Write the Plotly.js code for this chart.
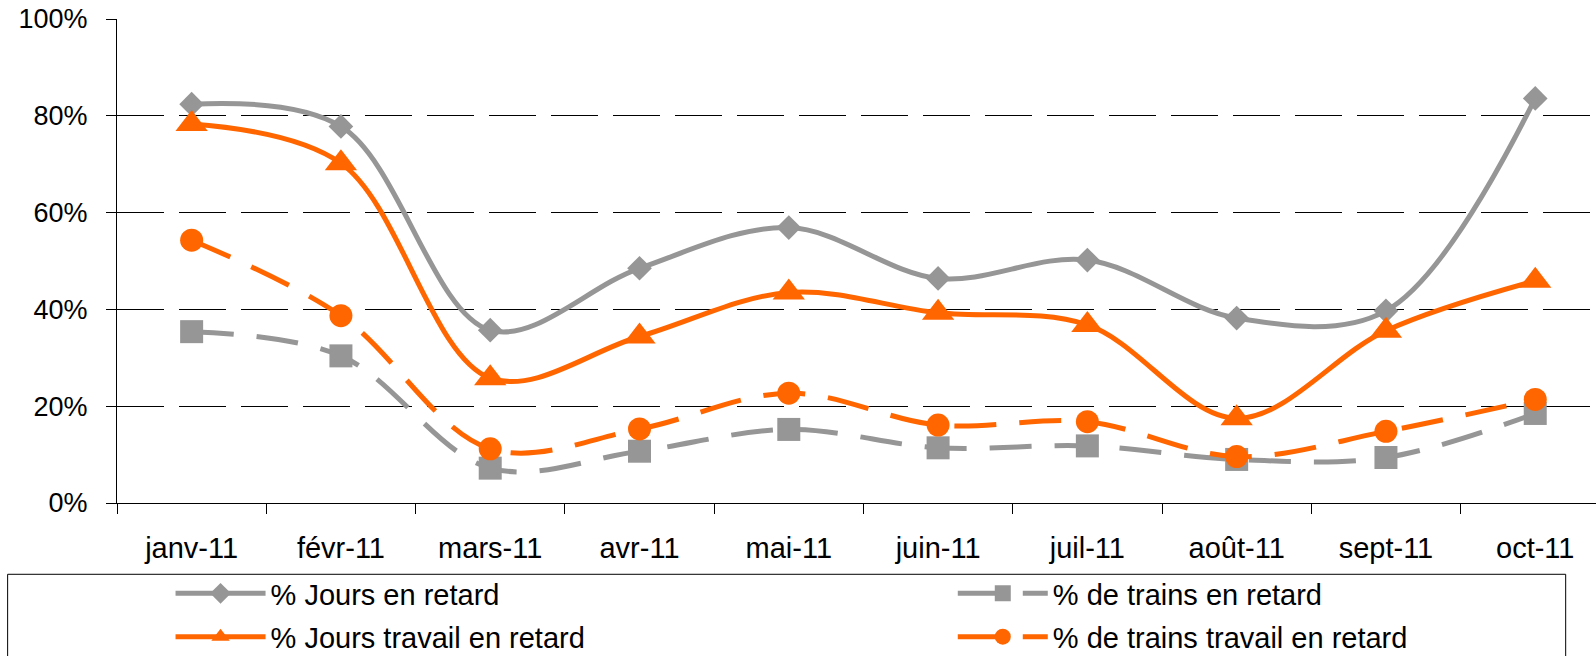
<!DOCTYPE html>
<html>
<head>
<meta charset="utf-8">
<script src="https://cdn.plot.ly/plotly-3.0.1.min.js"></script>
<style>
  html, body { margin: 0; padding: 0; background: #ffffff; }
  #chart { width: 1596px; height: 656px; }
</style>
</head>
<body>
<div id="chart"></div>
<script>
// Categories (months)
const months = ['janv-11', 'févr-11', 'mars-11', 'avr-11', 'mai-11', 'juin-11', 'juil-11', 'août-11', 'sept-11', 'oct-11'];

// Series values (percent)
const joursRetard        = [82.4, 77.8, 35.7, 48.5, 56.9, 46.4, 50.2, 38.2, 39.7, 83.6];
const trainsRetard       = [35.4, 30.4, 7.2, 10.7, 15.2, 11.4, 11.8, 9.0, 9.4, 18.5];
const joursTravailRetard = [78.3, 70.2, 25.8, 34.4, 43.5, 39.3, 36.8, 17.5, 35.6, 45.9];
const trainsTravailRetard= [54.3, 38.7, 11.2, 15.3, 22.7, 16.1, 16.8, 9.6, 14.8, 21.4];

// Series names
const seriesNames = ['% Jours en retard', '% de trains en retard', '% Jours travail en retard', '% de trains travail en retard'];

// Y tick values
const yTicks = [0, 20, 40, 60, 80, 100];

const GRAY = '#969696';
const ORANGE = '#FF6600';
const FONT = 'Liberation Sans, Arial, sans-serif';

const traces = [
  {
    x: months, y: joursRetard, name: seriesNames[0], legend: 'legend',
    type: 'scatter', mode: 'lines+markers',
    line: {color: GRAY, width: 5, shape: 'spline'},
    marker: {symbol: 'diamond', size: 19, color: GRAY}
  },
  {
    x: months, y: trainsRetard, name: seriesNames[1], legend: 'legend2',
    type: 'scatter', mode: 'lines+markers',
    line: {color: GRAY, width: 5, shape: 'spline', dash: '42px,23px'},
    marker: {symbol: 'square', size: 23, color: GRAY}
  },
  {
    x: months, y: joursTravailRetard, name: seriesNames[2], legend: 'legend3',
    type: 'scatter', mode: 'lines+markers',
    line: {color: ORANGE, width: 5, shape: 'spline'},
    marker: {symbol: 'triangle-up', size: 28, color: ORANGE}
  },
  {
    x: months, y: trainsTravailRetard, name: seriesNames[3], legend: 'legend4',
    type: 'scatter', mode: 'lines+markers',
    line: {color: ORANGE, width: 5, shape: 'spline', dash: '42px,23px'},
    marker: {symbol: 'circle', size: 23, color: ORANGE}
  }
];

const legendBase = {
  orientation: 'h',
  xanchor: 'left', yanchor: 'top',
  bgcolor: 'rgba(0,0,0,0)',
  borderwidth: 0,
  itemwidth: 90,
  font: {family: FONT, size: 29, color: '#000000'}
};
const col1 = 0.0362, col2 = 0.5651, row1 = -0.1343, row2 = -0.2238;

const layout = {
  width: 1596, height: 656,
  margin: {l: 117, r: 0, t: 19, b: 153, autoexpand: false},
  paper_bgcolor: '#ffffff', plot_bgcolor: '#ffffff',
  font: {family: FONT, size: 29, color: '#000000'},
  showlegend: true,
  legend:  Object.assign({}, legendBase, {x: col1, y: row1}),
  legend2: Object.assign({}, legendBase, {x: col2, y: row1}),
  legend3: Object.assign({}, legendBase, {x: col1, y: row2}),
  legend4: Object.assign({}, legendBase, {x: col2, y: row2}),
  xaxis: {
    type: 'category',
    categoryorder: 'array', categoryarray: months,
    range: [-0.5, 9.407],
    showline: true, linecolor: '#000000', linewidth: 1,
    ticks: 'outside', ticklen: 10, tickcolor: '#000000', tickwidth: 1,
    tickson: 'boundaries',
    showgrid: false, zeroline: false,
    tickfont: {family: FONT, size: 29, color: '#000000'},
    ticklabelstandoff: 19,
    fixedrange: true
  },
  yaxis: {
    range: [0, 100],
    tickvals: yTicks,
    ticktext: yTicks.map(v => v + '%'),
    showline: true, linecolor: '#000000', linewidth: 1,
    ticks: 'outside', ticklen: 10, tickcolor: '#000000', tickwidth: 1,
    showgrid: true, gridcolor: '#000000', gridwidth: 1, griddash: '47px,15px',
    zeroline: false,
    tickfont: {family: FONT, size: 27, color: '#000000'},
    ticklabelstandoff: 13,
    fixedrange: true
  },
  shapes: [
    {
      type: 'rect', xref: 'paper', yref: 'paper',
      x0: -0.07395, x1: 0.9795, y0: -0.1473, y1: -0.40,
      line: {color: '#000000', width: 1}, fillcolor: 'rgba(0,0,0,0)',
      layer: 'below'
    }
  ]
};

Plotly.newPlot('chart', traces, layout, {displayModeBar: false, staticPlot: true});
</script>
</body>
</html>
